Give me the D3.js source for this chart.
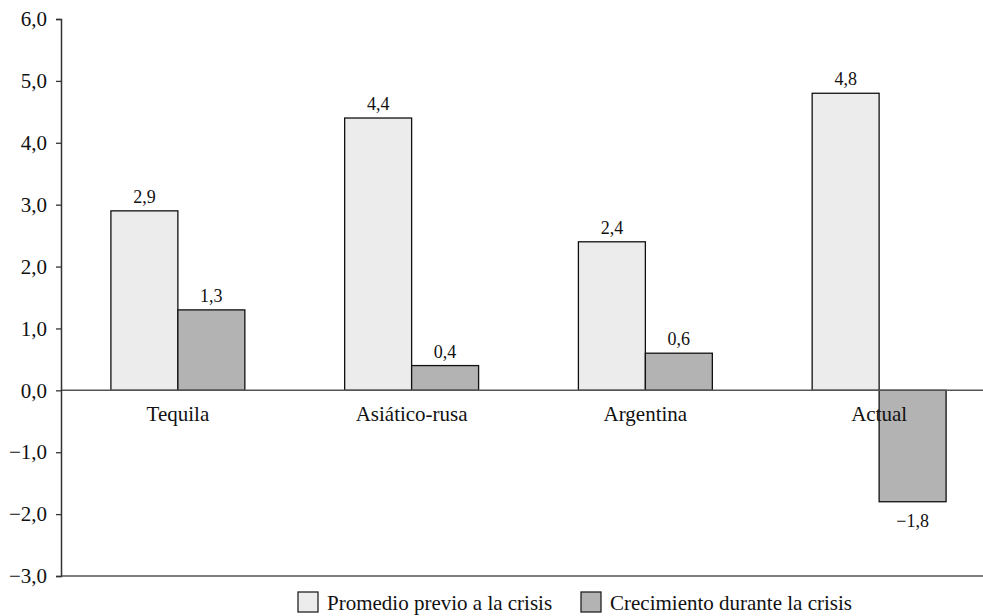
<!DOCTYPE html>
<html>
<head>
<meta charset="utf-8">
<script src="https://cdn.jsdelivr.net/npm/d3@7"></script>
<style>
  html, body { margin: 0; padding: 0; background: #fff; }
  svg { display: block; }
  text { font-family: "Liberation Serif", "Times New Roman", serif; fill: #111; }
</style>
</head>
<body>
<svg id="chart" width="983" height="616"></svg>
<script>
// Crisis episodes and the two growth measures per episode
const categories = ["Tequila", "Asiático-rusa", "Argentina", "Actual"];
const seriesNames = ["Promedio previo a la crisis", "Crecimiento durante la crisis"];
const promedioPrevio = [2.9, 4.4, 2.4, 4.8];
const crecimientoCrisis = [1.3, 0.4, 0.6, -1.8];
const yTicks = [-3, -2, -1, 0, 1, 2, 3, 4, 5, 6];
const seriesColors = ["#ebeceb", "#b3b3b4"];

const svg = d3.select("#chart");
const W = 983, H = 616;
const margin = { left: 61, top: 19 };
const plotBottom = 576;
const plotRight = 996;
const serif = "'Liberation Serif', 'Times New Roman', serif";

const locale = d3.formatLocale({ decimal: ",", thousands: ".", grouping: [3], currency: ["", ""], minus: "\u2212" });
const fmt = locale.format(".1f");

const y = d3.scaleLinear().domain([-3, 6]).range([plotBottom, margin.top]);
const x0 = d3.scaleBand().domain(categories).range([margin.left, plotRight])
  .paddingInner(0.427).paddingOuter(0.2135);
const x1 = d3.scaleBand().domain(seriesNames).range([0, x0.bandwidth()]);
const color = d3.scaleOrdinal().domain(seriesNames).range(seriesColors);

const rows = categories.map((c, i) => ({
  cat: c,
  values: [
    { key: seriesNames[0], v: promedioPrevio[i] },
    { key: seriesNames[1], v: crecimientoCrisis[i] }
  ]
}));

// Bars
const groups = svg.append("g").selectAll("g").data(rows).join("g")
  .attr("transform", d => `translate(${x0(d.cat)},0)`);

groups.selectAll("rect").data(d => d.values).join("rect")
  .attr("x", d => x1(d.key))
  .attr("y", d => y(Math.max(0, d.v)))
  .attr("width", x1.bandwidth())
  .attr("height", d => Math.abs(y(d.v) - y(0)))
  .attr("fill", d => color(d.key))
  .attr("stroke", "#111")
  .attr("stroke-width", 1.3);

// Value labels
groups.selectAll("text.val").data(d => d.values).join("text")
  .attr("class", "val")
  .attr("x", d => x1(d.key) + x1.bandwidth() / 2)
  .attr("y", d => d.v >= 0 ? y(d.v) - 8 : y(d.v) + 25)
  .attr("text-anchor", "middle")
  .style("font-size", "18px")
  .text(d => fmt(d.v));

// Zero line and bottom frame line
svg.append("line")
  .attr("x1", margin.left).attr("x2", W)
  .attr("y1", y(0)).attr("y2", y(0))
  .attr("stroke", "#555").attr("stroke-width", 1.5);
svg.append("line")
  .attr("x1", margin.left).attr("x2", W)
  .attr("y1", plotBottom).attr("y2", plotBottom)
  .attr("stroke", "#555").attr("stroke-width", 1.5);

// Y axis
const yAxis = d3.axisLeft(y).tickValues(yTicks).tickSize(5).tickPadding(9).tickFormat(fmt);
const ya = svg.append("g").attr("transform", `translate(${margin.left},0)`).call(yAxis);
ya.attr("font-family", null).attr("font-size", null);
ya.select(".domain").attr("stroke", "#333").attr("stroke-width", 1.5);
ya.selectAll(".tick line").attr("stroke", "#333").attr("stroke-width", 1.3);
ya.selectAll(".tick text")
  .style("font-family", serif)
  .style("font-size", "21px").attr("fill", "#111");

// Category labels below the zero line
svg.append("g").selectAll("text").data(categories).join("text")
  .attr("x", d => x0(d) + x0.bandwidth() / 2)
  .attr("y", y(0) + 31)
  .attr("text-anchor", "middle")
  .style("font-size", "21px")
  .text(d => d);

// Legend
const legend = svg.append("g");
const legendX = [298, 581];
const legendY = 592;
seriesNames.forEach((name, i) => {
  const g = legend.append("g").attr("transform", `translate(${legendX[i]},${legendY})`);
  g.append("rect").attr("width", 20).attr("height", 20)
    .attr("fill", color(name)).attr("stroke", "#222").attr("stroke-width", 1.3);
  g.append("text").attr("x", 29).attr("y", 18)
    .style("font-size", "21px").text(name);
});
</script>
</body>
</html>
